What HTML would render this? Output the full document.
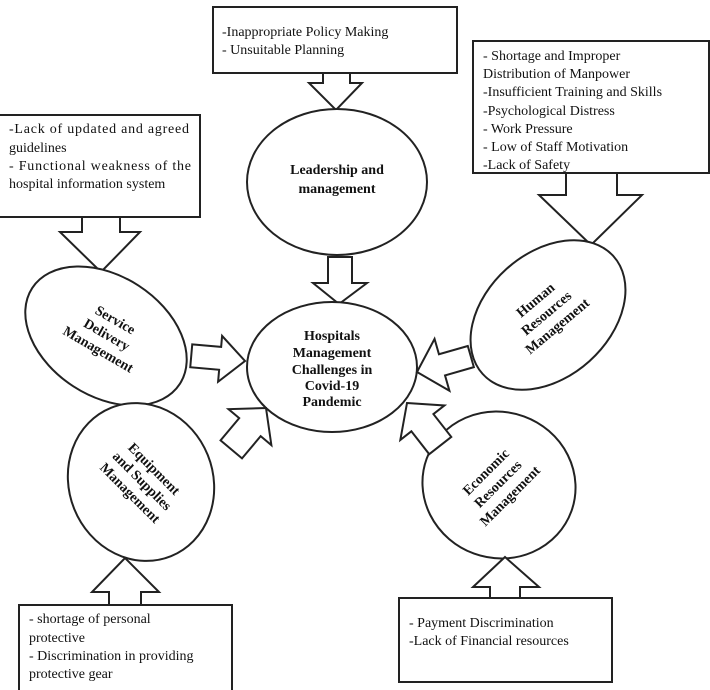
<!DOCTYPE html>
<html><head><meta charset="utf-8"><style>
html,body{margin:0;padding:0;background:#fff;width:710px;height:690px;overflow:hidden}
svg text{font-family:"Liberation Serif",serif;font-size:14px;fill:#111}
.b{font-weight:bold;text-anchor:middle}
</style></head><body>
<svg width="710" height="690" viewBox="0 0 710 690" fill="#fff" stroke="#222" stroke-width="2">
<!-- top box -->
<rect x="213" y="7" width="244" height="66"/>
<text x="222" y="36" stroke="none">-Inappropriate Policy Making</text>
<text x="222" y="54" stroke="none">- Unsuitable Planning</text>
<polygon points="323,73 350,73 350,83 362,83 336,110 309,83 323,83"/>
<ellipse cx="337" cy="182" rx="90" ry="73"/>
<text class="b" x="337" y="174" stroke="none">Leadership and</text>
<text class="b" x="337" y="193" stroke="none">management</text>
<polygon points="328,257 352,257 352,283 367,283 339,304 313,283 328,283"/>
<ellipse cx="332" cy="367" rx="85" ry="65"/>
<text class="b" x="332" y="340" stroke="none">Hospitals</text>
<text class="b" x="332" y="357" stroke="none">Management</text>
<text class="b" x="332" y="374" stroke="none">Challenges in</text>
<text class="b" x="332" y="390" stroke="none">Covid-19</text>
<text class="b" x="332" y="406" stroke="none">Pandemic</text>

<!-- human -->
<rect x="473" y="41" width="236" height="132"/>
<text x="483" y="60" stroke="none">- Shortage and Improper</text>
<text x="483" y="78" stroke="none">Distribution of Manpower</text>
<text x="483" y="96" stroke="none">-Insufficient Training and Skills</text>
<text x="483" y="115" stroke="none">-Psychological Distress</text>
<text x="483" y="133" stroke="none">- Work Pressure</text>
<text x="483" y="151" stroke="none">- Low of Staff Motivation</text>
<text x="483" y="169" stroke="none">-Lack of Safety</text>
<polygon points="566,173 617,173 617,195 642,195 591,245 539,195 566,195"/>
<ellipse cx="548" cy="315" rx="88" ry="62" transform="rotate(-42 548 315)"/>
<g transform="rotate(-40 548 315)" stroke="none">
<text class="b" x="548" y="300">Human</text>
<text class="b" x="548" y="317">Resources</text>
<text class="b" x="548" y="334">Management</text>
</g>
<polygon points="473,361 443,361 443,345 417,372 443,399 443,383 473,383" transform="rotate(-16 417 372)"/>

<!-- service -->
<rect x="-2" y="115" width="202" height="102"/>
<text x="9" y="133" stroke="none" textLength="180">-Lack of updated and agreed</text>
<text x="9" y="152" stroke="none">guidelines</text>
<text x="9" y="170" stroke="none" textLength="182" lengthAdjust="spacing">- Functional weakness of the</text>
<text x="9" y="188" stroke="none">hospital information system</text>
<polygon points="82,217 120,217 120,232 140,232 101,272 60,232 82,232"/>
<ellipse cx="106" cy="336" rx="88" ry="60" transform="rotate(33 106 336)"/>
<g transform="rotate(30 106 336)" stroke="none">
<text class="b" x="106" y="322">Service</text>
<text class="b" x="106" y="339">Delivery</text>
<text class="b" x="106" y="356">Management</text>
</g>
<polygon points="191,349 220,349 220,338 245,361 220,384 220,372 191,372" transform="rotate(5 245 361)"/>

<!-- equipment -->
<ellipse cx="141" cy="482" rx="72" ry="80" transform="rotate(-22 141 482)"/>
<g transform="rotate(45 141 482)" stroke="none">
<text class="b" x="141" y="468">Equipment</text>
<text class="b" x="141" y="485">and Supplies</text>
<text class="b" x="141" y="502">Management</text>
</g>
<polygon points="266,408 294,433 280,433 280,462 252,462 252,433 238,433" transform="rotate(40 266 408)"/>
<polygon points="125,558 159,592 141,592 141,605 109,605 109,592 92,592"/>
<rect x="19" y="605" width="213" height="90"/>
<text x="29" y="623" stroke="none">- shortage of personal</text>
<text x="29" y="642" stroke="none">protective</text>
<text x="29" y="660" stroke="none">- Discrimination in providing</text>
<text x="29" y="678" stroke="none">protective gear</text>

<!-- economic -->
<ellipse cx="499" cy="485" rx="77" ry="73" transform="rotate(20 499 485)"/>
<g transform="rotate(-45 499 485)" stroke="none">
<text class="b" x="499" y="471">Economic</text>
<text class="b" x="499" y="488">Resources</text>
<text class="b" x="499" y="505">Management</text>
</g>
<polygon points="407,403 435,428 421,428 421,457 393,457 393,428 379,428" transform="rotate(-38 407 403)"/>
<polygon points="505,557 539,587 520,587 520,598 490,598 490,587 473,587"/>
<rect x="399" y="598" width="213" height="84"/>
<text x="409" y="627" stroke="none">- Payment Discrimination</text>
<text x="409" y="645" stroke="none">-Lack of Financial resources</text>
</svg>
</body></html>
